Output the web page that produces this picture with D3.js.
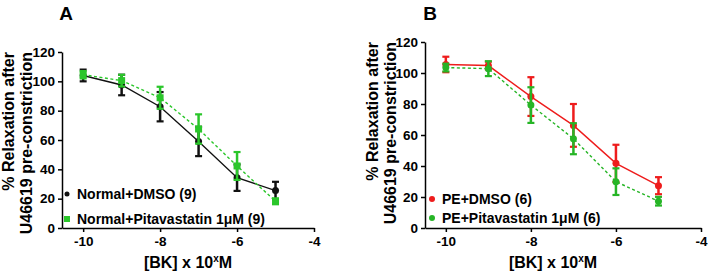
<!DOCTYPE html>
<html>
<head>
<meta charset="utf-8">
<script src="https://cdn.jsdelivr.net/npm/d3@7"></script>
<style>
  body { margin:0; background:#fff; }
  svg { font-family: "Liberation Sans", Arial, sans-serif; font-weight:bold; }
  .axis path, .axis line { stroke:#000; stroke-width:1.5px; }
  .axis text { font-size:13.5px; font-weight:bold; fill:#000; font-family:"Liberation Sans", Arial, sans-serif; }
</style>
</head>
<body>
<svg id="chart" width="708" height="272"></svg>
<script>
const logConc = [-10, -9, -8, -7, -6, -5];
const xTicks = [-10, -8, -6, -4];
const yTicks = [0, 20, 40, 60, 80, 100, 120];

// panel A
const normalDmso = [104, 97.5, 82.7, 59, 34.3, 25.5];
const normalDmsoErr = [4, 7, 10, 10, 9, 6];
const normalPita = [104.5, 100.5, 88.8, 67.5, 42.3, 18.2];
const normalPitaErr = [2.5, 4, 7.5, 10, 9.5, 2];

// panel B
const peDmso = [105.5, 104.8, 84.8, 66.2, 41.7, 27.3];
const peDmsoErr = [5, 2.5, 12.5, 13.8, 12, 5.5];
const pePita = [103.5, 102.8, 79.3, 57.6, 29.9, 17.3];
const pePitaErr = [2.5, 4.8, 11.5, 10, 8.6, 2.8];

const svg = d3.select('#chart');
const plain = d => String(d);

function panel(cfg){
    const g = svg.append('g');
    const x = d3.scaleLinear().domain(cfg.xDomain).range([cfg.left, cfg.right]);
    const y = d3.scaleLinear().domain([0,120]).range([cfg.bottom, cfg.top]);

    g.append('g').attr('class','axis')
        .attr('transform',`translate(0,${cfg.bottom})`)
        .call(d3.axisBottom(x).tickValues(xTicks).tickFormat(plain).tickSize(4).tickSizeOuter(0).tickPadding(4));
    g.append('g').attr('class','axis')
        .attr('transform',`translate(${cfg.left},0)`)
        .call(d3.axisLeft(y).tickValues(yTicks).tickFormat(plain).tickSize(4).tickSizeOuter(0).tickPadding(3));

    // panel letter
    g.append('text').attr('x',cfg.letterX).attr('y',20)
        .attr('text-anchor','middle').style('font-size','19px').text(cfg.letter);

    // y title, two lines
    ['% Relaxation after','U46619 pre-constriction'].forEach((t,i)=>{
        g.append('text')
            .attr('transform',`translate(${cfg.yTitleX[i]},${cfg.top})rotate(-90)`)
            .attr('text-anchor','end').style('font-size','16px').text(t);
    });

    // x title with superscript
    const xt = g.append('text').attr('x',(cfg.left+cfg.right)/2+cfg.xTitleShift).attr('y',268)
        .attr('text-anchor','middle').style('font-size','16px');
    xt.append('tspan').text('[BK] x 10');
    xt.append('tspan').attr('dy',-6).style('font-size','10px').text('x');
    xt.append('tspan').attr('dy',6).text('M');

    const line = d3.line().x((d,i)=>x(logConc[i])).y(d=>y(d));

    cfg.series.forEach(s=>{
        const sg = g.append('g');
        sg.append('path').datum(s.values).attr('d',line)
            .attr('fill','none').attr('stroke',s.color).attr('stroke-width',1.4)
            .attr('stroke-dasharray',s.dash ? '3,2.5' : null);
        s.values.forEach((v,i)=>{
            const cx = x(logConc[i]), e = s.err[i];
            sg.append('line').attr('x1',cx).attr('x2',cx).attr('y1',y(v-e)).attr('y2',y(v+e))
                .attr('stroke',s.color).attr('stroke-width',2.5);
            [v-e, v+e].forEach(c=>{
                sg.append('line').attr('x1',cx-3.5).attr('x2',cx+3.5).attr('y1',y(c)).attr('y2',y(c))
                    .attr('stroke',s.color).attr('stroke-width',2.2);
            });
            if (s.square)
                sg.append('rect').attr('x',cx-3.5).attr('y',y(v)-3.5).attr('width',7).attr('height',7).attr('fill',s.color);
            else
                sg.append('circle').attr('cx',cx).attr('cy',y(v)).attr('r',3.5).attr('fill',s.color);
        });
    });

    // legend
    cfg.series.forEach((s,i)=>{
        const ly = cfg.legendY[i], lx = cfg.legendX;
        if (s.square)
            g.append('rect').attr('x',lx-3).attr('y',ly-3).attr('width',6).attr('height',6).attr('fill',s.color);
        else
            g.append('circle').attr('cx',lx).attr('cy',ly).attr('r',s.legendR).attr('fill',s.color);
        g.append('text').attr('x',lx+10).attr('y',ly+5).style('font-size','14px').text(s.label);
    });
}

panel({
    letter:'A', letterX:66, xDomain:[-10.55,-4], left:62, right:314, top:52, bottom:228,
    yTitleX:[14,32], xTitleShift:0, legendX:67, legendY:[194,219],
    series:[
        {label:'Normal+DMSO (9)', values:normalDmso, err:normalDmsoErr, color:'#111', dash:false, square:false, legendR:2.5},
        {label:'Normal+Pitavastatin 1\u03bcM (9)', values:normalPita, err:normalPitaErr, color:'#2ac62a', dash:true, square:true, legendR:3}
    ]
});

panel({
    letter:'B', letterX:430, xDomain:[-10.49,-4], left:425, right:701, top:42, bottom:228,
    yTitleX:[378,396], xTitleShift:-10, legendX:432, legendY:[199,218],
    series:[
        {label:'PE+DMSO (6)', values:peDmso, err:peDmsoErr, color:'#ee1c1c', dash:false, square:false, legendR:3},
        {label:'PE+Pitavastatin 1\u03bcM (6)', values:pePita, err:pePitaErr, color:'#26b526', dash:true, square:false, legendR:3}
    ]
});
</script>
</body>
</html>
